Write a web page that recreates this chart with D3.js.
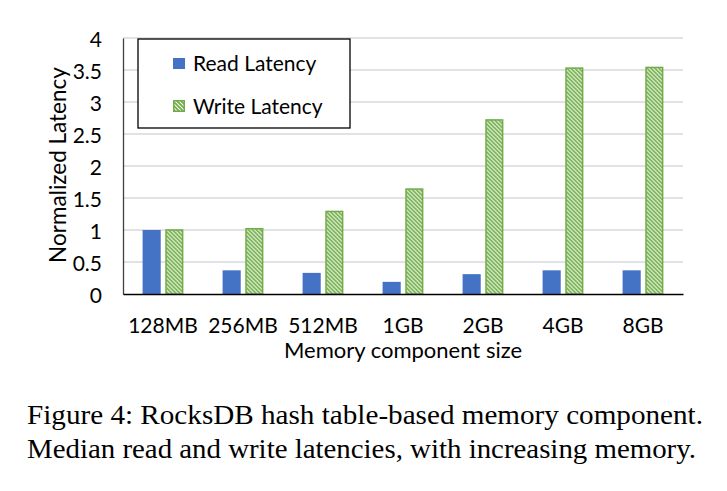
<!DOCTYPE html>
<html><head><meta charset="utf-8">
<script src="https://cdn.jsdelivr.net/npm/d3@7"></script>
<style>body{margin:0;background:#fff}svg{display:block}</style>
</head><body>
<script>
const categories = ["128MB","256MB","512MB","1GB","2GB","4GB","8GB"];
const readLatency = [1.0, 0.37, 0.33, 0.19, 0.31, 0.37, 0.37];
const writeLatency = [1.0, 1.02, 1.29, 1.64, 2.72, 3.53, 3.54];
const yTicks = [0, 0.5, 1, 1.5, 2, 2.5, 3, 3.5, 4];
const yTickLabels = ["0","0.5","1","1.5","2","2.5","3","3.5","4"];
const seriesNames = ["Read Latency","Write Latency"];
const caption = ["Figure 4: RocksDB hash table-based memory component.",
                 "Median read and write latencies, with increasing memory."];

(function(){
const W = 727, H = 491;
const svg = d3.select("body").append("svg").attr("width", W).attr("height", H);
const font = "Lato, 'Open Sans', sans-serif";
const green = "#70ad47", blue = "#4472c4";

const defs = svg.append("defs");
const pat = defs.append("pattern").attr("id","hatch").attr("patternUnits","userSpaceOnUse")
  .attr("width",4).attr("height",4);
pat.append("rect").attr("width",4).attr("height",4).attr("fill","#fff");
pat.append("path").attr("d","M0,0L4,4M-1,3L1,5M3,-1L5,1")
  .attr("stroke",green).attr("stroke-width",1.8);

const mLeft = 123, mRight = 683, mTop = 38, mBottom = 294;
const y = d3.scaleLinear().domain([0,4]).range([mBottom, mTop]);
const x0 = d3.scaleBand().domain(categories).range([mLeft, mRight]).paddingInner(0.49).paddingOuter(0.245);
const x1 = d3.scaleBand().domain(["read","write"]).range([0, x0.bandwidth()]).paddingInner(0.2);

// gridlines
svg.append("g").selectAll("line").data(yTicks.filter(d => d > 0)).join("line")
  .attr("x1", mLeft).attr("x2", mRight).attr("y1", d => y(d)).attr("y2", d => y(d))
  .attr("stroke","#d9d9d9").attr("stroke-width",1.3);

// y axis
const yAxis = d3.axisLeft(y).tickValues(yTicks).tickFormat((d,i) => yTickLabels[i]).tickSize(0).tickPadding(21);
const gy = svg.append("g").attr("transform",`translate(${mLeft},0)`).call(yAxis);
gy.select(".domain").attr("stroke","#404040").attr("stroke-width",1.3);
gy.selectAll("text").attr("font-family",font).attr("font-size",21).attr("fill","#000").attr("dy","0.4em");

// bars
const groups = svg.append("g").selectAll("g").data(categories).join("g")
  .attr("transform", d => `translate(${x0(d)},0)`);
groups.append("rect")
  .attr("x", x1("read")).attr("width", x1.bandwidth())
  .attr("y", (d,i) => y(readLatency[i])).attr("height", (d,i) => y(0) - y(readLatency[i]))
  .attr("fill", blue);
groups.append("rect")
  .attr("x", x1("write")+0.75).attr("width", x1.bandwidth()-1.5)
  .attr("y", (d,i) => y(writeLatency[i])).attr("height", (d,i) => y(0) - y(writeLatency[i]))
  .attr("fill","url(#hatch)").attr("stroke",green).attr("stroke-width",1.5);

// x axis
const xAxis = d3.axisBottom(x0).tickSize(0).tickPadding(24);
const gx = svg.append("g").attr("transform",`translate(0,${mBottom})`).call(xAxis);
gx.select(".domain").attr("stroke","#000").attr("stroke-width",1.5);
gx.selectAll("text").attr("font-family",font).attr("font-size",21).attr("fill","#000");

// axis titles
svg.append("text").attr("x", 403).attr("y", 358).attr("text-anchor","middle")
  .attr("font-family",font).attr("font-size",22).text("Memory component size");
svg.append("text").attr("transform","translate(66,165) rotate(-90)").attr("text-anchor","middle")
  .attr("font-family",font).attr("font-size",22.5).text("Normalized Latency");

// legend
const lg = svg.append("g");
lg.append("rect").attr("x",138).attr("y",39).attr("width",212).attr("height",89)
  .attr("fill","#fff").attr("stroke","#000").attr("stroke-width",1.3);
lg.append("rect").attr("x",173).attr("y",58).attr("width",12).attr("height",11).attr("fill",blue);
lg.append("rect").attr("x",173.75).attr("y",100.75).attr("width",10.5).attr("height",10.5)
  .attr("fill","url(#hatch)").attr("stroke",green).attr("stroke-width",1.5);
lg.append("text").attr("x",193).attr("y",71).attr("font-family",font).attr("font-size",21).text(seriesNames[0]);
lg.append("text").attr("x",193).attr("y",114).attr("font-family",font).attr("font-size",21).text(seriesNames[1]);

// caption
const capW = [676, 669];
svg.append("g").selectAll("text").data(caption).join("text")
  .attr("x",27).attr("y",(d,i) => 423.5 + i*34)
  .attr("font-family","'Liberation Serif', 'Times New Roman', serif").attr("font-size",28)
  .attr("textLength",(d,i) => capW[i]).attr("lengthAdjust","spacingAndGlyphs")
  .attr("fill","#000").text(d => d);
})();
</script>
</body></html>
